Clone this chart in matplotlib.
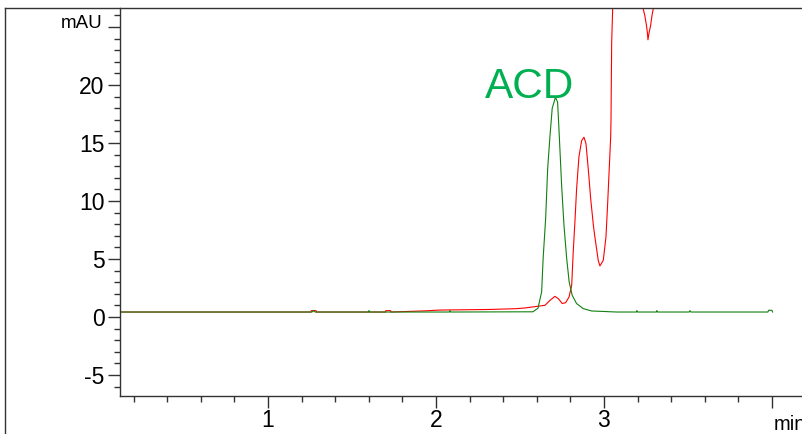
import matplotlib
matplotlib.use('Agg')
import matplotlib.pyplot as plt
from matplotlib.lines import Line2D
from matplotlib.ticker import MultipleLocator, FixedFormatter, FixedLocator

# retention time (min) / absorbance (mAU)
green_t = [0.119, 1.262, 1.271, 1.280, 1.598, 1.601, 1.604, 2.080, 2.083, 2.086,
           2.577, 2.607, 2.629, 2.638, 2.653, 2.665, 2.679, 2.692, 2.711, 2.724,
           2.734, 2.748, 2.762, 2.778, 2.793, 2.811, 2.837, 2.877, 2.927, 3.076,
           3.193, 3.196, 3.199, 3.312, 3.315, 3.318, 3.507, 3.512, 3.517,
           3.976, 3.980, 4.000, 4.004]
green_v = [0.43, 0.43, 0.55, 0.43, 0.43, 0.55, 0.43, 0.43, 0.55, 0.43,
           0.45, 0.75, 2.16, 5.06, 8.51, 12.82, 15.66, 17.99, 18.94, 18.53,
           15.66, 11.35, 7.91, 5.06, 3.02, 1.87, 1.16, 0.72, 0.52, 0.43,
           0.43, 0.55, 0.43, 0.43, 0.55, 0.43, 0.43, 0.55, 0.43,
           0.43, 0.58, 0.58, 0.43]

red_t = [0.119, 1.256, 1.258, 1.286, 1.288, 1.700, 1.702, 1.730, 1.732,
         1.935, 2.024, 2.320, 2.480, 2.530, 2.649, 2.679, 2.708, 2.728, 2.752,
         2.772, 2.792, 2.808, 2.817, 2.827, 2.837, 2.851, 2.867, 2.881, 2.893,
         2.907, 2.921, 2.937, 2.946, 2.966, 2.976, 2.996, 3.012, 3.022, 3.031,
         3.040, 3.042, 3.046, 3.052, 3.070, 3.220, 3.233, 3.243, 3.253, 3.259,
         3.262, 3.268, 3.278, 3.286, 3.294, 3.310, 3.400]
red_v = [0.43, 0.43, 0.55, 0.55, 0.43, 0.43, 0.55, 0.55, 0.43,
         0.53, 0.60, 0.65, 0.72, 0.78, 1.01, 1.44, 1.78, 1.59, 1.16,
         1.24, 1.72, 2.73, 5.60, 8.16, 11.00, 13.80, 15.20, 15.50, 14.95,
         12.70, 10.20, 7.91, 6.90, 4.89, 4.40, 4.89, 6.90, 9.78, 12.65,
         15.52, 16.96, 23.70, 26.60, 32.0, 32.0, 26.60, 26.00, 25.15, 24.46,
         23.90, 24.46, 25.15, 26.00, 26.60, 32.0, 32.0]

y_ticks = [-5, 0, 5, 10, 15, 20, 25]
y_labels = ['-5', '0', '5', '10', '15', '20', '']
x_ticks = [1, 2, 3, 4]
x_labels = ['1', '2', '3', '']

plt.rcParams['font.family'] = ['Liberation Sans', 'DejaVu Sans']

fig = plt.figure(figsize=(8.02, 4.34), dpi=100)
ax = fig.add_axes([120 / 802, 38 / 434, 682 / 802, 388 / 434])

ax.plot(red_t, red_v, color='#ff0000', lw=0.8)
ax.plot(green_t, green_v, color='#108010', lw=0.8)

ax.set_xlim(0.119, 4.179)
ax.set_ylim(-6.81, 26.64)

ax.spines['top'].set_visible(False)
ax.spines['right'].set_visible(False)
for s in ('left', 'bottom'):
    ax.spines[s].set_linewidth(1.0)
    ax.spines[s].set_color('#333333')

ax.yaxis.set_major_locator(FixedLocator(y_ticks))
ax.yaxis.set_major_formatter(FixedFormatter(y_labels))
ax.yaxis.set_minor_locator(MultipleLocator(1))
ax.xaxis.set_major_locator(FixedLocator(x_ticks))
ax.xaxis.set_major_formatter(FixedFormatter(x_labels))
ax.xaxis.set_minor_locator(MultipleLocator(0.2))

ax.tick_params(which='major', length=8.6, width=1.0, color='#333333',
               labelsize=16.5, pad=2.5)
ax.tick_params(which='minor', length=4.3, width=1.0, color='#333333')
ax.tick_params(axis='x', which='major', pad=0.5)

ax.text(2.292, 18.9, 'ACD', color='#00b050', fontsize=30.5, ha='left', va='baseline')

fig.text(102.5 / 802, 1 - 28.3 / 434, 'mAU', fontsize=13.5, ha='right', va='baseline')
fig.text(774 / 802, 1 - 430 / 434, 'min', fontsize=14.5, ha='left', va='baseline')

# outer frame of the report
fig.add_artist(Line2D([5 / 802, 5 / 802], [0, 1 - 8 / 434], transform=fig.transFigure,
                      color='#333333', lw=1.0))
fig.add_artist(Line2D([5 / 802, 1], [1 - 8 / 434, 1 - 8 / 434], transform=fig.transFigure,
                      color='#333333', lw=1.0))

fig.savefig('out.png', dpi=100)
